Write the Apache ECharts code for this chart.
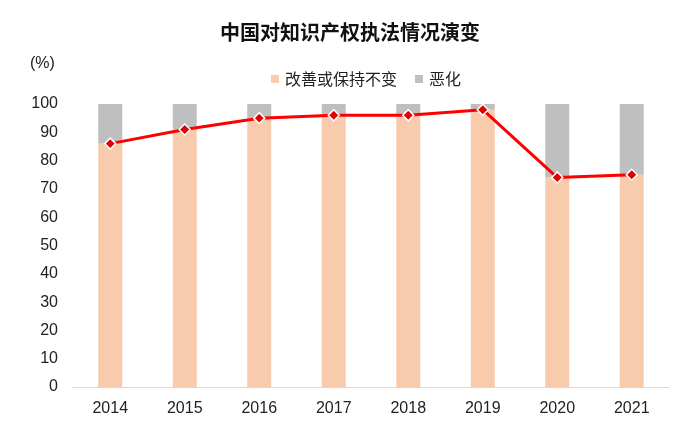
<!DOCTYPE html>
<html><head><meta charset="utf-8">
<script src="https://cdn.jsdelivr.net/npm/echarts@6/dist/echarts.min.js"></script>
<style>html,body{margin:0;padding:0;background:#fff}#c{width:700px;height:431px}</style>
</head><body><div id="c"></div>
<script>
const categories = ['2014','2015','2016','2017','2018','2019','2020','2021'];
const improvedOrSame = [86, 91, 95, 96, 96, 98, 74, 75];
const worsened = [14, 9, 5, 4, 4, 2, 26, 25];
const lineValues = [86, 91, 95, 96, 96, 98, 74, 75];

const chart = echarts.init(document.getElementById('c'));
const font = '"Liberation Sans", Arial, "Noto Sans CJK SC", sans-serif';
const cjk = '"Noto Sans CJK SC", sans-serif';
chart.setOption({
  animation: false,
  textStyle: {fontFamily: font},
  title: {
    text: '中国对知识产权执法情况演变',
    left: 'center', top: 17,
    textStyle: {fontSize: 20, fontWeight: 'bold', color: '#111', fontFamily: cjk}
  },
  graphic: [{
    type: 'text', left: 30, top: 56,
    style: {text: '(%)', fontSize: 16, fill: '#222', fontFamily: font}
  }],
  legend: {
    data: ['改善或保持不变', '恶化'],
    left: 266, top: 66,
    itemWidth: 8, itemHeight: 8, itemGap: 18,
    icon: 'rect',
    textStyle: {fontSize: 16, color: '#222', fontFamily: cjk, padding: [0,0,0,1]}
  },
  grid: {left: 73, right: 31, top: 104, bottom: 44, containLabel: false},
  xAxis: {
    type: 'category', data: categories,
    axisLine: {lineStyle: {color: '#D9D9D9', width: 1}},
    axisTick: {show: false},
    axisLabel: {fontSize: 16, color: '#222', margin: 14, fontFamily: font}
  },
  yAxis: {
    type: 'value', min: 0, max: 100, interval: 10,
    splitLine: {show: false},
    axisLine: {show: false}, axisTick: {show: false},
    axisLabel: {fontSize: 16, color: '#222', margin: 15, fontFamily: font}
  },
  series: [
    {name: '改善或保持不变', type: 'bar', stack: 's', data: improvedOrSame, barWidth: 24, itemStyle: {color: '#F8CBAD'}},
    {name: '恶化', type: 'bar', stack: 's', data: worsened, barWidth: 24, itemStyle: {color: '#BFBFBF'}},
    {name: 'line', type: 'line', data: lineValues, symbol: 'diamond', symbolSize: 11,
     lineStyle: {color: '#FF0000', width: 3},
     itemStyle: {color: '#E00000', borderColor: '#fff', borderWidth: 1.5}, z: 5}
  ]
});
</script></body></html>
